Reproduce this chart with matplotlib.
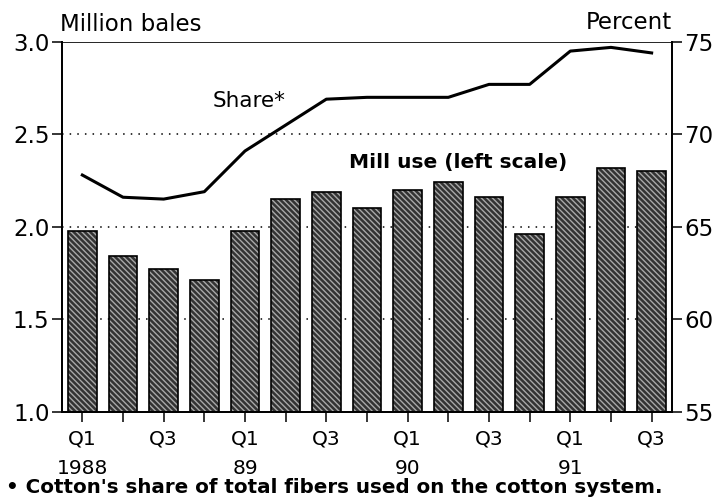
import numpy as np
import matplotlib.pyplot as plt

plt.rcParams['font.family'] = ['DejaVu Sans']
plt.rcParams['hatch.linewidth'] = 1.0

# data
tick_labels = ['Q1\n1988', '', 'Q3', '', 'Q1\n89', '', 'Q3', '',
               'Q1\n90', '', 'Q3', '', 'Q1\n91', '', 'Q3']
mill_use = [1.98, 1.84, 1.77, 1.71, 1.98, 2.15, 2.19, 2.10,
            2.20, 2.24, 2.16, 1.96, 2.16, 2.32, 2.30]
share = [67.8, 66.6, 66.5, 66.9, 69.1, 70.5, 71.9, 72.0,
         72.0, 72.0, 72.7, 72.7, 74.5, 74.7, 74.4]

x = np.arange(len(mill_use))

fig = plt.figure(figsize=(7.21, 4.98), dpi=100)
ax = fig.add_axes([0.086, 0.173, 0.846, 0.743])
ax2 = ax.twinx()

# hatched bars, then a black outline on top
ax.bar(x, np.array(mill_use) - 1.0, bottom=1.0, width=0.7, color='#333333',
       edgecolor='#a8a8a8', hatch='\\\\\\\\\\\\', linewidth=0, zorder=2)
ax.bar(x, np.array(mill_use) - 1.0, bottom=1.0, width=0.7, fill=False,
       edgecolor='black', linewidth=1.2, zorder=3)

for y in [1.5, 2.0, 2.5]:
    ax.axhline(y, color='black', lw=1.1, ls=(0, (1, 4)), zorder=1)
ax.axhline(3.0, color='black', lw=1.2, zorder=1)

ax.set_xlim(-0.5, 14.5)
ax.set_ylim(1.0, 3.0)
ax.set_yticks([1.0, 1.5, 2.0, 2.5, 3.0])
ax.set_yticklabels(['1.0', '1.5', '2.0', '2.5', '3.0'], fontsize=16.5)
ax.set_xticks(x)
ax.set_xticklabels(tick_labels, fontsize=14.5, linespacing=1.65, va='top')
ax.tick_params(axis='x', length=7, width=1.1, pad=6)
ax.tick_params(axis='y', length=7, width=1.1, pad=2)

ax2.plot(x, share, color='black', lw=2.2, zorder=4)
ax2.set_ylim(55, 75)
ax2.set_yticks([55, 60, 65, 70, 75])
ax2.set_yticklabels(['55', '60', '65', '70', '75'], fontsize=16.5)
ax2.tick_params(axis='y', length=7, width=1.1, pad=2)

for a in (ax, ax2):
    a.spines['top'].set_visible(False)
    a.spines['left'].set_linewidth(1.3)
    a.spines['right'].set_linewidth(1.3)
    a.spines['bottom'].set_linewidth(1.3)

ax2.text(3.2, 71.8, 'Share*', fontsize=15.5, ha='left', va='center')
ax.text(6.55, 2.346, 'Mill use (left scale)', fontsize=14.5, ha='left',
        va='center', fontweight='bold')

fig.text(0.083, 0.95, 'Million bales', fontsize=16.5, ha='left', va='center')
fig.text(0.932, 0.955, 'Percent', fontsize=16.5, ha='right', va='center')
fig.text(0.008, 0.022, "\u2022 Cotton's share of total fibers used on the cotton system.",
         fontsize=14.3, ha='left', va='center', fontweight='bold')

fig.savefig('out.png', dpi=100)
